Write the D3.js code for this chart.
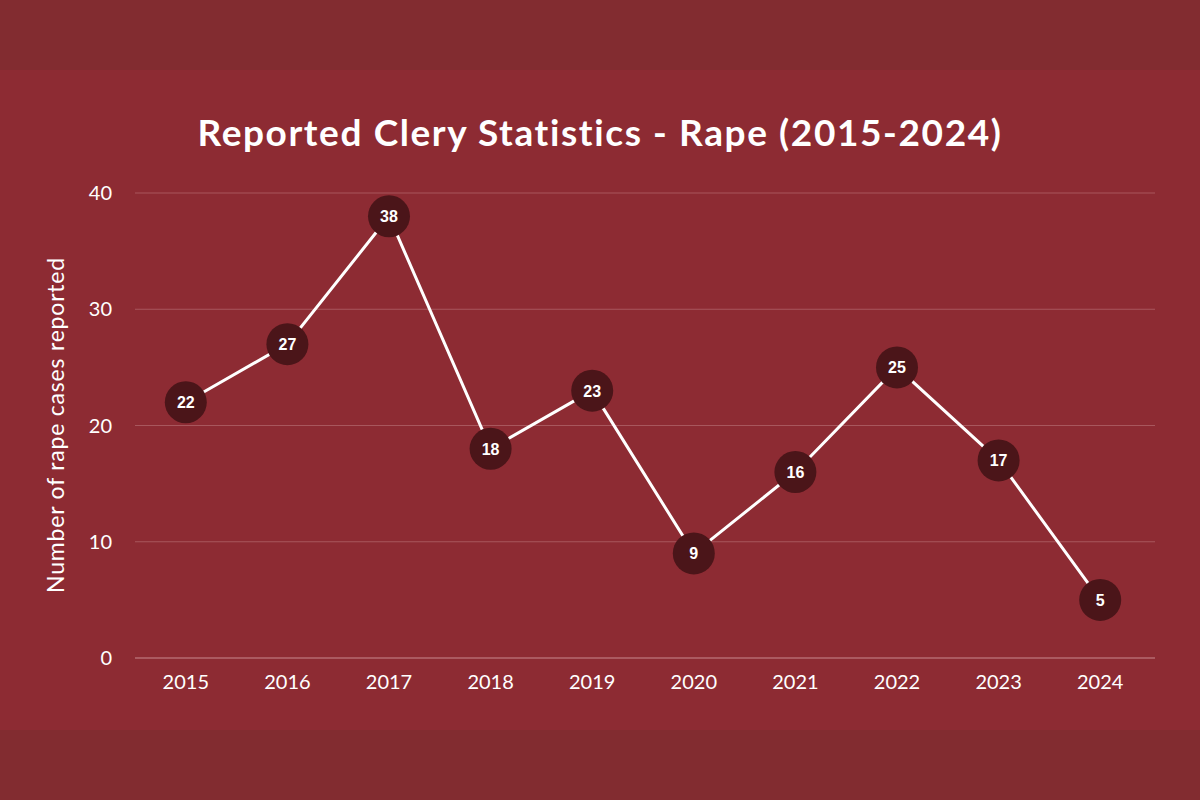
<!DOCTYPE html>
<html><head><meta charset="utf-8">
<script src="https://cdn.jsdelivr.net/npm/d3@7"></script>
<style>body{margin:0;background:#822c30}</style>
</head><body>
<svg id="chart" width="1200" height="800"></svg>
<script>
var years = ["2015","2016","2017","2018","2019","2020","2021","2022","2023","2024"];
var cases = [22,27,38,18,23,9,16,25,17,5];
var yTicks = [0,10,20,30,40];

var svg = d3.select('#chart');
// background bands
svg.append("rect").attr("width",1200).attr("height",800).attr("fill","#822c30");
svg.append("rect").attr("y",70).attr("width",1200).attr("height",660).attr("fill","#8d2b33");

var x = d3.scalePoint().domain(years).range([135,1151]).padding(0.5);
var y = d3.scaleLinear().domain([0,40]).range([658,193]);

svg.append("text").attr("x",600).attr("y",146).attr("text-anchor","middle")
    .attr("fill","#fff").attr("font-family","Lato").attr("font-weight","bold")
    .attr("font-size",37).attr("letter-spacing",1.6)
    .text("Reported Clery Statistics - Rape (2015-2024)");

// gridlines
svg.append("g").selectAll("line").data(yTicks).join("line")
    .attr("x1",135).attr("x2",1155)
    .attr("y1",d=>y(d)).attr("y2",d=>y(d))
    .attr("stroke",d=>d==0?"#c98a8f":"#a8575d").attr("stroke-width",1);

svg.append("g").selectAll("text").data(yTicks).join("text")
    .attr("x",112).attr("y",d=>y(d)+7).attr("text-anchor","end")
    .attr("fill","#fff").attr("font-family","Lato").attr("font-size",20)
    .text(d=>d);

svg.append("g").selectAll("text").data(years).join("text")
    .attr("x",d=>x(d)).attr("y",689).attr("text-anchor","middle")
    .attr("fill","#fff").attr("font-family","Lato").attr("font-size",20)
    .text(d=>d);

svg.append("text").attr("transform","translate(64,425) rotate(-90)")
    .attr("text-anchor","middle").attr("fill","#fff")
    .attr("font-family","Lato").attr("font-size",23).attr("letter-spacing",0.8)
    .text("Number of rape cases reported");

var xy = years.map((d,i)=>({x:d,y:cases[i]}));
svg.append("path").datum(xy).attr("fill","none").attr("stroke","#fff").attr("stroke-width",3)
    .attr("d", d3.line().x(d=>x(d.x)).y(d=>y(d.y)));

svg.append("g").selectAll("circle").data(xy).join("circle")
    .attr("cx",d=>x(d.x)).attr("cy",d=>y(d.y)).attr("r",21).attr("fill","#4b1519");

svg.append("g").selectAll("text").data(xy).join("text")
    .attr("x",d=>x(d.x)).attr("y",d=>y(d.y)+6).attr("text-anchor","middle")
    .attr("fill","#fff").attr("font-family","Liberation Sans").attr("font-weight","bold")
    .attr("font-size",16).text(d=>d.y);
</script>
</body></html>
